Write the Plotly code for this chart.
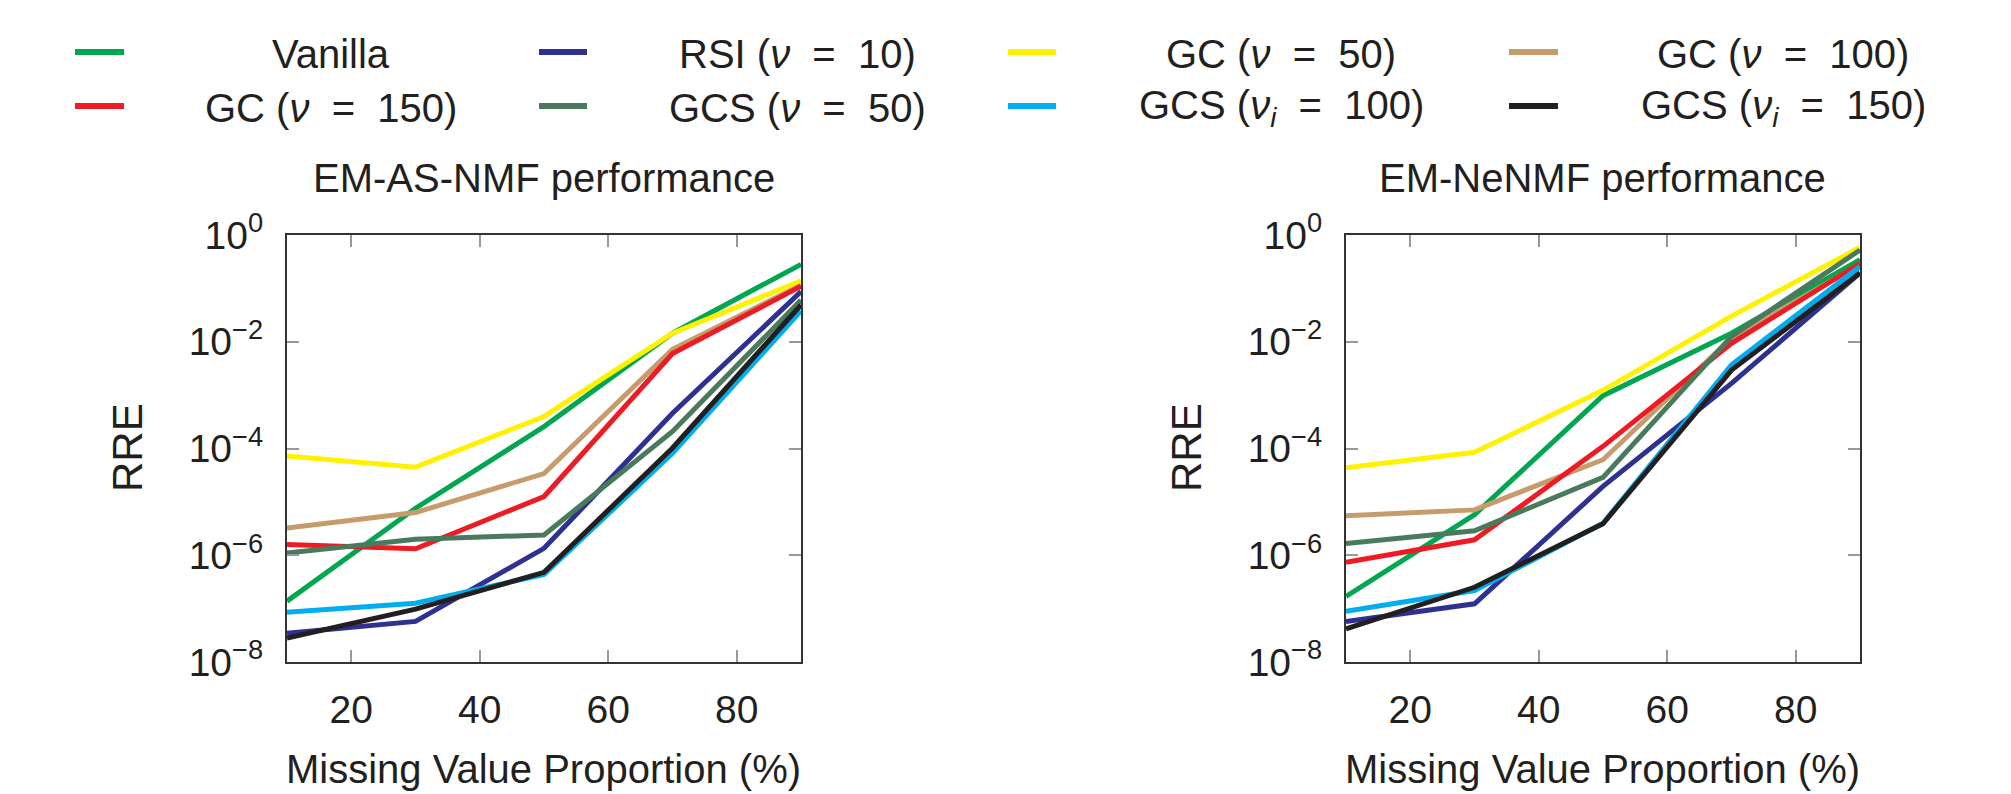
import plotly.graph_objects as go

missing_pct = [10, 30, 50, 70, 90]

series_names = [
    "Vanilla",
    "RSI (<i>ν</i> = 10)",
    "GC (<i>ν</i> = 50)",
    "GC (<i>ν</i> = 100)",
    "GC (<i>ν</i> = 150)",
    "GCS (<i>ν</i> = 50)",
    "GCS (<i>ν<sub>i</sub></i> = 100)",
    "GCS (<i>ν<sub>i</sub></i> = 150)",
]
series_colors = ["#00a650", "#2e3192", "#fff200", "#c69c6d",
                 "#ed1c24", "#4a7a5c", "#00aeef", "#231f20"]

# RRE values (log10) -- EM-AS-NMF
as_vanilla = [-6.86, -5.12, -3.59, -1.84, -0.55]
as_rsi10 = [-7.46, -7.24, -5.87, -3.34, -1.06]
as_gc50 = [-4.14, -4.35, -3.40, -1.84, -0.86]
as_gc100 = [-5.49, -5.20, -4.47, -2.14, -0.94]
as_gc150 = [-5.80, -5.88, -4.90, -2.22, -0.96]
as_gcs50 = [-5.96, -5.70, -5.62, -3.68, -1.22]
as_gcs100 = [-7.07, -6.90, -6.36, -4.09, -1.42]
as_gcs150 = [-7.55, -7.01, -6.32, -3.99, -1.31]

# EM-NeNMF
ne_vanilla = [-6.77, -5.24, -3.01, -1.84, -0.46]
ne_rsi10 = [-7.24, -6.91, -4.71, -2.78, -0.71]
ne_gc50 = [-4.36, -4.07, -2.91, -1.52, -0.23]
ne_gc100 = [-5.26, -5.15, -4.21, -1.93, -0.55]
ne_gc150 = [-6.13, -5.71, -3.96, -2.03, -0.53]
ne_gcs50 = [-5.78, -5.54, -4.54, -1.90, -0.28]
ne_gcs100 = [-7.05, -6.66, -5.40, -2.43, -0.59]
ne_gcs150 = [-7.38, -6.60, -5.41, -2.53, -0.71]

as_series = [as_vanilla, as_rsi10, as_gc50, as_gc100, as_gc150, as_gcs50, as_gcs100, as_gcs150]
ne_series = [ne_vanilla, ne_rsi10, ne_gc50, ne_gc100, ne_gc150, ne_gcs50, ne_gcs100, ne_gcs150]

x_ticks = [20, 40, 60, 80]
y_tick_exps = [0, -2, -4, -6, -8]
y_tick_text = ["10<sup>%s</sup>" % (str(e).replace("-", "−")) for e in y_tick_exps]

panel_titles = ["EM-AS-NMF performance", "EM-NeNMF performance"]

# full window size; the page's default body margin is removed after plotting
W, H = 2011, 794
FONT = "Liberation Sans, Arial, sans-serif"
TXT = "#231f20"

fig = go.Figure()

for panel, data in enumerate([as_series, ne_series]):
    xa = "x" if panel == 0 else "x2"
    ya = "y" if panel == 0 else "y2"
    for name, color, vals in zip(series_names, series_colors, data):
        fig.add_trace(go.Scatter(
            x=missing_pct, y=[10 ** v for v in vals], mode="lines",
            line=dict(color=color, width=5), name=name,
            showlegend=False, xaxis=xa, yaxis=ya, hoverinfo="x+y+name"))


def px_x(p):
    return p / W


def px_y(p):
    return 1 - p / H


x_doms = [[px_x(287), px_x(801)], [px_x(1346), px_x(1860)]]
y_dom = [px_y(662), px_y(235)]

axis_common = dict(showline=True, linecolor="#333", linewidth=2, mirror="allticks",
                   ticks="inside", ticklen=12, tickwidth=1.5, tickcolor="#999",
                   showgrid=False, zeroline=False, automargin=False,
                   tickfont=dict(family=FONT, size=39, color=TXT))

layout_axes = {}
for i in range(2):
    sx = "" if i == 0 else "2"
    layout_axes["xaxis" + sx] = dict(domain=x_doms[i], range=[10, 90], tickvals=x_ticks,
                                     anchor="y" + sx, ticklabelstandoff=12, **axis_common)
    layout_axes["yaxis" + sx] = dict(domain=y_dom, type="log", range=[-8, 0],
                                     tickvals=[10 ** e for e in y_tick_exps],
                                     ticktext=y_tick_text, anchor="x" + sx,
                                     ticklabelstandoff=14, **axis_common)

annotations = []
for i in range(2):
    cx = (x_doms[i][0] + x_doms[i][1]) / 2
    annotations.append(dict(text=panel_titles[i], x=cx, y=px_y(178), xref="paper", yref="paper",
                            showarrow=False, xanchor="center", yanchor="middle",
                            font=dict(family=FONT, size=40, color=TXT)))
    annotations.append(dict(text="Missing Value Proportion (%)", x=cx, y=px_y(769),
                            xref="paper", yref="paper", showarrow=False,
                            xanchor="center", yanchor="middle",
                            font=dict(family=FONT, size=40, color=TXT)))
    annotations.append(dict(text="RRE", x=px_x(127 if i == 0 else 1186), y=px_y(448),
                            xref="paper", yref="paper", showarrow=False, textangle=-90,
                            xanchor="center", yanchor="middle",
                            font=dict(family=FONT, size=42, color=TXT)))

# manual legend, 2 rows x 4 columns, text centred in each column
line_x = [(75, 124), (539, 587), (1008, 1056), (1509, 1558)]
text_cx = [331, 797, 1281, 1783]
row_y = [52, 106]
shapes = []
for k, (name, color) in enumerate(zip(series_names, series_colors)):
    r, c = divmod(k, 4)
    x0, x1 = line_x[c]
    shapes.append(dict(type="line", xref="paper", yref="paper",
                       x0=px_x(x0), x1=px_x(x1), y0=px_y(row_y[r]), y1=px_y(row_y[r]),
                       line=dict(color=color, width=6)))
    annotations.append(dict(text=name.replace(" = ", "  =  "), x=px_x(text_cx[c]), y=px_y(row_y[r] + 2),
                            xref="paper", yref="paper", showarrow=False,
                            xanchor="center", yanchor="middle",
                            font=dict(family=FONT, size=40, color=TXT)))

fig.update_layout(width=W, height=H, autosize=False,
                  margin=dict(l=0, r=0, t=0, b=0, pad=0, autoexpand=False),
                  paper_bgcolor="white", plot_bgcolor="white",
                  annotations=annotations, shapes=shapes, **layout_axes)

fig.write_html("out.html", config={"displayModeBar": False},
               post_script="document.body.style.margin='0';document.body.style.overflow='hidden';")
